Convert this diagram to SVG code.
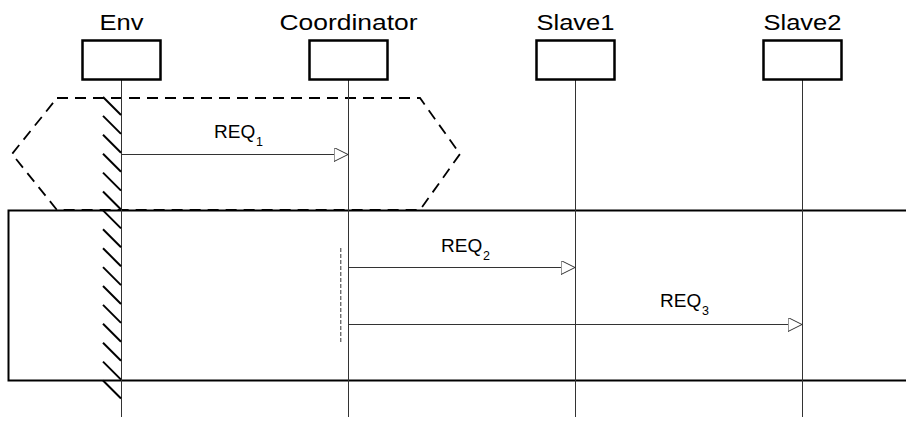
<svg xmlns="http://www.w3.org/2000/svg" width="906" height="421" viewBox="0 0 906 421">
<style>
.title{font-family:"Liberation Sans",Arial,sans-serif;font-size:22.5px;fill:#000}
.lbl{font-family:"Liberation Sans",Arial,sans-serif;font-size:19px;fill:#000}
.sub{font-family:"Liberation Sans",Arial,sans-serif;font-size:12.5px;fill:#000}
.box{fill:#fff;stroke:#000;stroke-width:2.5}
.life{stroke:#333;stroke-width:1;fill:none}
.msg{stroke:#333;stroke-width:1;fill:none}
.hatch{stroke:#000;stroke-width:2}
</style>
<defs>
<marker id="open" markerWidth="16" markerHeight="16" refX="14" refY="7" orient="auto" markerUnits="userSpaceOnUse">
<path d="M0,0 L14,7 L0,14 Z" fill="#fff" stroke="#333" stroke-width="1"/>
</marker>
</defs>
<rect width="906" height="421" fill="#fff"/>
<g id="frame">
<rect x="8.5" y="210.5" width="910" height="170" fill="none" stroke="#000" stroke-width="2"/>
</g>
<g id="env-region">
<path d="M57,98 L420,98 L460,154 L420,210 L57,210 L12,154 Z" fill="none" stroke="#000" stroke-width="1.8" stroke-dasharray="11,7"/>
</g>
<g id="lifelines">
<line class="life" x1="121.5" y1="80" x2="121.5" y2="417"/>
<line class="life" x1="348.5" y1="80" x2="348.5" y2="417"/>
<line class="life" x1="575.5" y1="80" x2="575.5" y2="417"/>
<line class="life" x1="802.5" y1="80" x2="802.5" y2="417"/>
</g>
<g id="env-hatch">
<line class="hatch" x1="103" y1="97" x2="121" y2="115"/>
<line class="hatch" x1="103" y1="115.9" x2="121" y2="133.9"/>
<line class="hatch" x1="103" y1="134.8" x2="121" y2="152.8"/>
<line class="hatch" x1="103" y1="153.7" x2="121" y2="171.7"/>
<line class="hatch" x1="103" y1="172.6" x2="121" y2="190.6"/>
<line class="hatch" x1="103" y1="191.5" x2="121" y2="209.5"/>
<line class="hatch" x1="103" y1="210.4" x2="121" y2="228.4"/>
<line class="hatch" x1="103" y1="229.3" x2="121" y2="247.3"/>
<line class="hatch" x1="103" y1="248.2" x2="121" y2="266.2"/>
<line class="hatch" x1="103" y1="267.1" x2="121" y2="285.1"/>
<line class="hatch" x1="103" y1="286" x2="121" y2="304"/>
<line class="hatch" x1="103" y1="304.9" x2="121" y2="322.9"/>
<line class="hatch" x1="103" y1="323.8" x2="121" y2="341.8"/>
<line class="hatch" x1="103" y1="342.7" x2="121" y2="360.7"/>
<line class="hatch" x1="103" y1="361.6" x2="121" y2="379.6"/>
<line class="hatch" x1="103" y1="380.5" x2="121" y2="398.5"/>
</g>
<g id="coord-activation">
<line x1="340.8" y1="248" x2="340.8" y2="344" stroke="#333" stroke-width="1" stroke-dasharray="4,2"/>
</g>
<g id="Env">
<rect class="box" x="82.5" y="40.5" width="78" height="39"/>
<text class="title" x="121.5" y="30" text-anchor="middle" textLength="44" lengthAdjust="spacingAndGlyphs">Env</text>
</g>
<g id="Coordinator">
<rect class="box" x="309.5" y="40.5" width="78" height="39"/>
<text class="title" x="348.5" y="30" text-anchor="middle" textLength="138" lengthAdjust="spacingAndGlyphs">Coordinator</text>
</g>
<g id="Slave1">
<rect class="box" x="536.5" y="40.5" width="78" height="39"/>
<text class="title" x="575.5" y="30" text-anchor="middle" textLength="78" lengthAdjust="spacingAndGlyphs">Slave1</text>
</g>
<g id="Slave2">
<rect class="box" x="763.5" y="40.5" width="78" height="39"/>
<text class="title" x="802.5" y="30" text-anchor="middle" textLength="78" lengthAdjust="spacingAndGlyphs">Slave2</text>
</g>
<g id="connectors">
<line class="msg" x1="121.5" y1="154.5" x2="348" y2="154.5" marker-end="url(#open)"/>
<line class="msg" x1="348.5" y1="267.5" x2="575" y2="267.5" marker-end="url(#open)"/>
<line class="msg" x1="348.5" y1="324.5" x2="802" y2="324.5" marker-end="url(#open)"/>
<text class="lbl" x="214" y="138">REQ<tspan class="sub" x="256" y="146">1</tspan></text>
<text class="lbl" x="441" y="252">REQ<tspan class="sub" x="483" y="260">2</tspan></text>
<text class="lbl" x="660" y="307">REQ<tspan class="sub" x="702" y="315">3</tspan></text>
</g>
</svg>
